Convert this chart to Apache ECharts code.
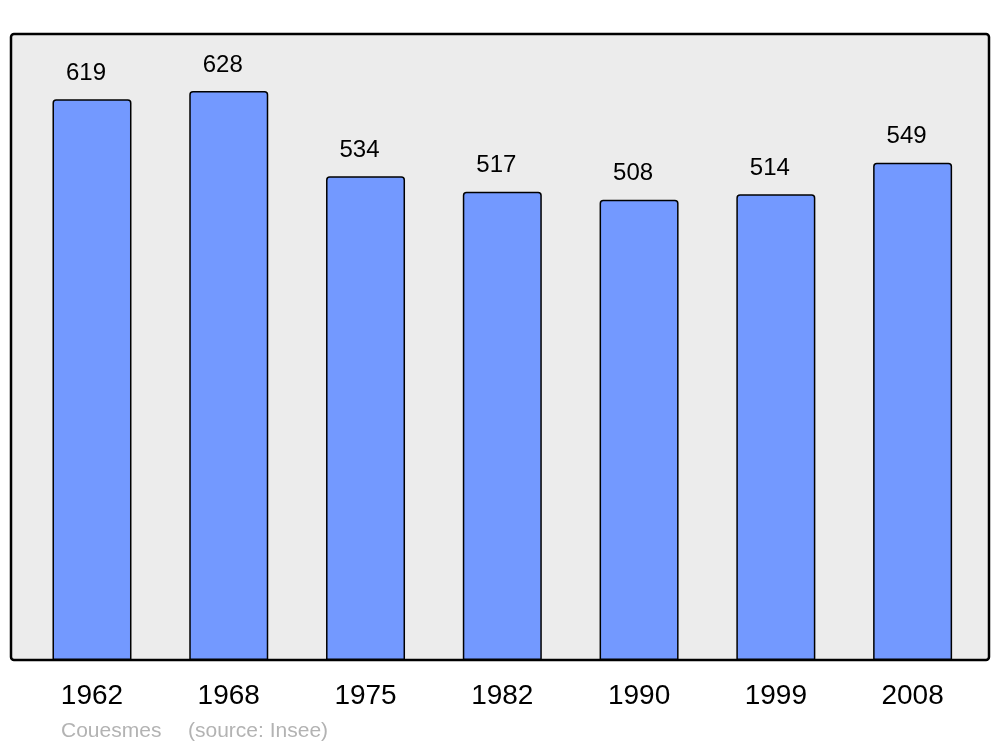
<!DOCTYPE html>
<html><head><meta charset="utf-8">
<script src="https://cdn.jsdelivr.net/npm/echarts@6/dist/echarts.min.js"></script>
<style>html,body{margin:0;padding:0;background:#fff}#c{width:1000px;height:747px}</style>
</head><body><div id="c"></div>
<script>
const years = ['1962','1968','1975','1982','1990','1999','2008'];
const population = [619,628,534,517,508,514,549];
const footerName = 'Couesmes';
const footerSource = '(source: Insee)';

const chart = echarts.init(document.getElementById('c'), null, {renderer:'canvas'});
chart.setOption({
  animation:false,
  backgroundColor:'#fff',
  textStyle:{fontFamily:'Liberation Sans, Arial, sans-serif'},
  graphic:[
    {type:'rect', z:-10, shape:{x:11,y:34,width:978,height:626,r:3},
     style:{fill:'#ececec', stroke:'#000', lineWidth:2.5}},
    {type:'text', left:61, top:721, style:{text:footerName, fill:'#b3b3b3', font:'21px "Liberation Sans", Arial, sans-serif'}},
    {type:'text', left:188, top:721, style:{text:footerSource, fill:'#b3b3b3', font:'21px "Liberation Sans", Arial, sans-serif'}}
  ],
  grid:{left:23.6, right:19, top:34, bottom:87, containLabel:false},
  xAxis:{type:'category', data:years, axisLine:{show:false}, axisTick:{show:false},
    axisLabel:{color:'#000', fontSize:28, margin:22, fontFamily:'Liberation Sans, Arial, sans-serif'}},
  yAxis:{type:'value', min:0, max:691, show:false, splitLine:{show:false}},
  series:[{type:'bar', data:population, barWidth:79, z:5,
    itemStyle:{color:'#7399ff', borderColor:'#000', borderWidth:1.5, borderRadius:[3,3,0,0]},
    label:{show:true, position:'top', distance:14, offset:[-6,0], color:'#000', fontSize:24, fontFamily:'Liberation Sans, Arial, sans-serif'}
  }]
});
</script></body></html>
